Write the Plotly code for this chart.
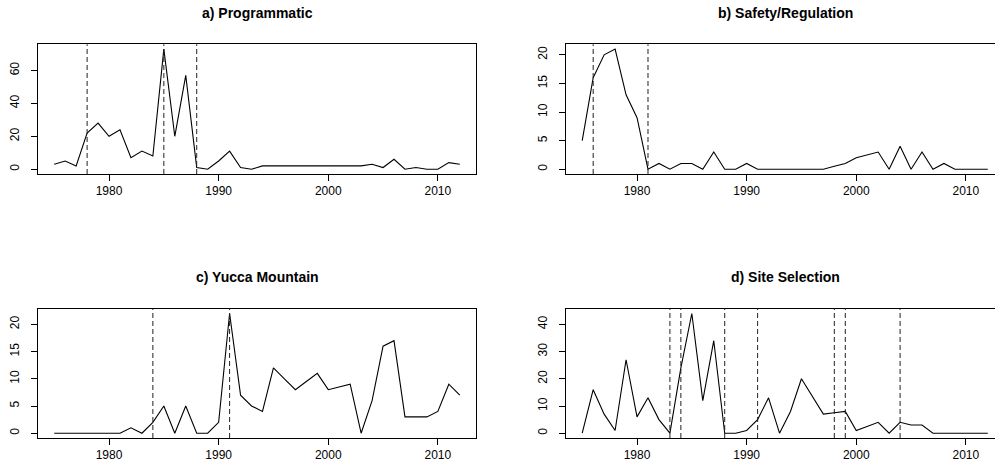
import plotly.graph_objects as go

W, H = 995, 471

years = [1975, 1976, 1977, 1978, 1979, 1980, 1981, 1982, 1983, 1984,
         1985, 1986, 1987, 1988, 1989, 1990, 1991, 1992, 1993, 1994,
         1995, 1996, 1997, 1998, 1999, 2000, 2001, 2002, 2003, 2004,
         2005, 2006, 2007, 2008, 2009, 2010, 2011, 2012]

programmatic = [3, 5, 2, 22, 28, 20, 24, 7, 11, 8,
                73, 20, 57, 1, 0, 5, 11, 1, 0, 2,
                2, 2, 2, 2, 2, 2, 2, 2, 2, 3,
                1, 6, 0, 1, 0, 0, 4, 3]
safety = [5, 16, 20, 21, 13, 9, 0, 1, 0, 1,
          1, 0, 3, 0, 0, 1, 0, 0, 0, 0,
          0, 0, 0, 0.5, 1, 2, 2.5, 3, 0, 4,
          0, 3, 0, 1, 0, 0, 0, 0]
yucca = [0, 0, 0, 0, 0, 0, 0, 1, 0, 2,
         5, 0, 5, 0, 0, 2, 22, 7, 5, 4,
         12, 10, 8, 9.5, 11, 8, 8.5, 9, 0, 6,
         16, 17, 3, 3, 3, 4, 9, 7]
site = [0, 16, 7, 1, 27, 6, 13, 5, 0, 24,
        44, 12, 34, 0, 0, 1, 5, 13, 0, 8,
        20, 13.5, 7, 7.5, 8, 1, 2.5, 4, 0, 4,
        3, 3, 0, 0, 0, 0, 0, 0]

breaks_a = [1978, 1985, 1988]
breaks_b = [1976, 1981]
breaks_c = [1984, 1991]
breaks_d = [1983, 1984, 1988, 1991, 1998, 1999, 2004]

titles = ["a) Programmatic", "b) Safety/Regulation", "c) Yucca Mountain", "d) Site Selection"]
yticks_a = [0, 20, 40, 60]
yticks_b = [0, 5, 10, 15, 20]
yticks_c = [0, 5, 10, 15, 20]
yticks_d = [0, 10, 20, 30, 40]
xticks = [1980, 1990, 2000, 2010]

FONT = "Liberation Sans, Arial, Helvetica, sans-serif"

panels = [
    (programmatic, breaks_a, yticks_a, (38, 476), (44.3, 174)),
    (safety, breaks_b, yticks_b, (566, 1004), (44.3, 174)),
    (yucca, breaks_c, yticks_c, (38, 476), (308.7, 438)),
    (site, breaks_d, yticks_d, (566, 1004), (308.7, 438)),
]

fig = go.Figure()
shapes = []
annotations = []
layout = dict(width=W, height=H, margin=dict(l=0, r=0, t=0, b=0),
              paper_bgcolor="white", plot_bgcolor="white", showlegend=False,
              font=dict(family=FONT, size=12, color="black"))

x0r, x1r = 1973.52, 2013.48
for i, (vals, brks, yt, (px0, px1), (py0, py1)) in enumerate(panels):
    n = i + 1
    xa = "x" if n == 1 else f"x{n}"
    ya = "y" if n == 1 else f"y{n}"
    fig.add_trace(go.Scatter(x=years, y=vals, mode="lines", xaxis=xa, yaxis=ya,
                             line=dict(color="black", width=1.1), hoverinfo="skip"))
    scale = (x1r - x0r) / (px1 - px0)
    right_px = min(px1, W)
    xr = [x0r, x0r + (right_px - px0) * scale]
    ymax = max(vals)
    ymin = min(vals)
    pad = (ymax - ymin) * 0.04
    layout[f"xaxis{'' if n == 1 else n}"] = dict(
        domain=[px0 / W, right_px / W], range=xr, anchor=ya,
        tickvals=xticks, ticks="outside", ticklen=6, tickwidth=1, tickcolor="black",
        showline=True, linecolor="black", linewidth=1, mirror=True,
        showgrid=False, zeroline=False, tickfont=dict(size=12, family=FONT),
        ticklabelstandoff=0)
    layout[f"yaxis{'' if n == 1 else n}"] = dict(
        domain=[1 - py1 / H, 1 - py0 / H], range=[ymin - pad, ymax + pad], anchor=xa,
        tickvals=yt, ticks="outside", ticklen=6, tickwidth=1, tickcolor="black",
        showline=True, linecolor="black", linewidth=1, mirror=(px1 <= W),
        showgrid=False, zeroline=False, tickangle=-90,
        tickfont=dict(size=12, family=FONT), ticklabelstandoff=7)
    for b in brks:
        shapes.append(dict(type="line", xref=xa, yref=f"{ya} domain",
                           x0=b, x1=b, y0=0, y1=1,
                           line=dict(color="#222222", width=1, dash="5px,3px")))
    annotations.append(dict(text=f"<b>{titles[i]}</b>", xref="paper", yref="paper",
                            x=(px0 + px1) / 2 / W, y=1 - ((py0 - 31.5) / H),
                            xanchor="center", yanchor="middle", showarrow=False,
                            font=dict(size=14, family=FONT, color="black")))

layout["shapes"] = shapes
layout["annotations"] = annotations
fig.update_layout(**layout)
fig.write_html("out.html")
